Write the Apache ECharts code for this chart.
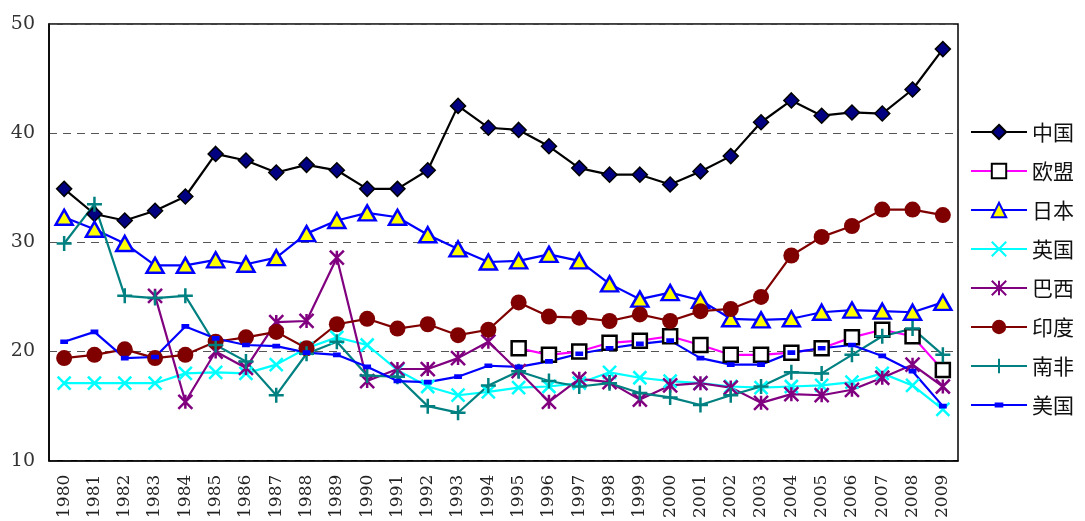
<!DOCTYPE html>
<html><head><meta charset="utf-8">
<script src="https://cdn.jsdelivr.net/npm/echarts@6/dist/echarts.min.js"></script>
<style>html,body{margin:0;padding:0;background:#fff}#c{width:1085px;height:521px}</style>
</head><body><div id="c"></div>
<script>
const years = ['1980','1981','1982','1983','1984','1985','1986','1987','1988','1989','1990','1991','1992','1993','1994','1995','1996','1997','1998','1999','2000','2001','2002','2003','2004','2005','2006','2007','2008','2009'];
const yTicks = [10, 20, 30, 40, 50];
const china = [34.9,32.6,32.0,32.9,34.2,38.1,37.5,36.4,37.1,36.6,34.9,34.9,36.6,42.5,40.5,40.3,38.8,36.8,36.2,36.2,35.3,36.5,37.9,41.0,43.0,41.6,41.9,41.8,44.0,47.7];
const eu = [null,null,null,null,null,null,null,null,null,null,null,null,null,null,null,20.3,19.7,20.0,20.8,21.0,21.4,20.6,19.7,19.7,19.9,20.3,21.3,22.0,21.4,18.3];
const japan = [32.3,31.2,29.9,27.9,27.9,28.4,28.0,28.6,30.8,32.0,32.7,32.3,30.7,29.4,28.2,28.3,28.9,28.3,26.2,24.8,25.4,24.7,23.0,22.9,23.0,23.6,23.8,23.7,23.6,24.5];
const uk = [17.1,17.1,17.1,17.1,18.0,18.1,18.0,18.8,20.3,21.3,20.6,18.3,16.8,16.0,16.3,16.7,16.8,17.1,18.1,17.6,17.3,17.1,16.8,16.7,16.8,16.9,17.2,18.0,16.9,14.7];
const brazil = [null,null,null,25.1,15.4,20.0,18.5,22.7,22.8,28.6,17.3,18.4,18.4,19.4,20.9,18.2,15.4,17.5,17.2,15.6,16.9,17.1,16.7,15.3,16.1,16.0,16.5,17.6,18.8,16.8];
const india = [19.4,19.7,20.2,19.4,19.7,20.9,21.3,21.8,20.3,22.5,23.0,22.1,22.5,21.5,22.0,24.5,23.2,23.1,22.8,23.4,22.8,23.7,23.9,25.0,28.8,30.5,31.5,33.0,33.0,32.5];
const southAfrica = [29.9,33.5,25.1,24.9,25.1,20.6,19.1,16.0,19.8,20.9,17.8,17.7,15.0,14.4,16.9,18.2,17.3,16.8,17.1,16.2,15.8,15.1,16.0,16.8,18.1,18.0,19.7,21.4,22.1,19.7];
const usa = [20.9,21.8,19.4,19.5,22.3,21.2,20.6,20.5,19.9,19.7,18.6,17.3,17.2,17.7,18.7,18.6,19.1,19.8,20.3,20.7,21.0,19.4,18.8,18.8,19.9,20.3,20.6,19.6,18.2,15.0];

const X_PATH = 'path://M0 0L10 10M10 0L0 10';
const STAR_PATH = 'path://M5 0L5 10M0 0L10 10M10 0L0 10';
const PLUS_PATH = 'path://M5 0L5 10M0 5L10 5';
const SMALL_RECT = 'path://M0 0L0.01 0M2 3.2H8V6.8H2Z M10 10L9.99 10';

function mk(name, data, lineColor, symbol, size, itemStyle) {
  return {
    name, type: 'line', data, symbol, symbolSize: size,
    showAllSymbol: true, connectNulls: false,
    lineStyle: { color: lineColor, width: 2.2 },
    itemStyle: itemStyle,
    emphasis: { disabled: true },
    animation: false
  };
}

const chart = echarts.init(document.getElementById('c'));
chart.setOption({
  backgroundColor: '#fff',
  animation: false,
  grid: { left: 49, right: 127, top: 24, bottom: 58, show: true, borderColor: '#000', borderWidth: 1.5, backgroundColor: 'transparent' },
  legend: {
    orient: 'vertical', left: 965, top: 115,
    itemWidth: 56, itemHeight: 18, itemGap: 15,
    textStyle: { fontFamily: 'Noto Sans CJK SC', fontSize: 21, color: '#111', lineHeight: 24 },
    data: ['中国','欧盟','日本','英国','巴西','印度','南非','美国']
  },
  xAxis: {
    type: 'category', data: years, boundaryGap: true,
    axisLine: { lineStyle: { color: '#000', width: 1.5 } },
    axisTick: { inside: true, length: 6, lineStyle: { color: '#000' } },
    axisLabel: { rotate: 90, fontFamily: 'DejaVu Serif', fontSize: 17, color: '#222', margin: 14, interval: 0 },
    splitLine: { show: false }
  },
  yAxis: {
    type: 'value', min: 10, max: 50, interval: 10,
    axisLine: { show: true, lineStyle: { color: '#000', width: 1.5 } },
    axisTick: { show: false },
    axisLabel: { fontFamily: 'DejaVu Serif', fontSize: 19, color: '#333', margin: 14,
      formatter: v => yTicks.includes(v) ? String(v) : '' },
    splitLine: { show: true, lineStyle: { color: '#555', type: [8, 6], width: 1 } }
  },
  series: [
    mk('中国', china, '#000', 'diamond', 15, { color: '#000080', borderColor: '#000', borderWidth: 1.5 }),
    mk('欧盟', eu, '#FF00FF', 'rect', 14, { color: '#fff', borderColor: '#000', borderWidth: 2.5 }),
    mk('日本', japan, '#0000FF', 'triangle', [17, 15], { color: '#FFFF00', borderColor: '#0000FF', borderWidth: 2.5 }),
    mk('英国', uk, '#00FFFF', X_PATH, 13, { color: 'transparent', borderColor: '#00FFFF', borderWidth: 2.5 }),
    mk('巴西', brazil, '#800080', STAR_PATH, 14, { color: 'transparent', borderColor: '#800080', borderWidth: 2.5 }),
    mk('印度', india, '#800000', 'circle', 16, { color: '#800000', borderColor: '#800000', borderWidth: 0 }),
    mk('南非', southAfrica, '#008080', PLUS_PATH, 15, { color: 'transparent', borderColor: '#008080', borderWidth: 2.5 }),
    mk('美国', usa, '#0000FF', SMALL_RECT, 13, { color: '#0000FF', borderColor: '#0000FF', borderWidth: 0 })
  ]
});
</script>
</body></html>
